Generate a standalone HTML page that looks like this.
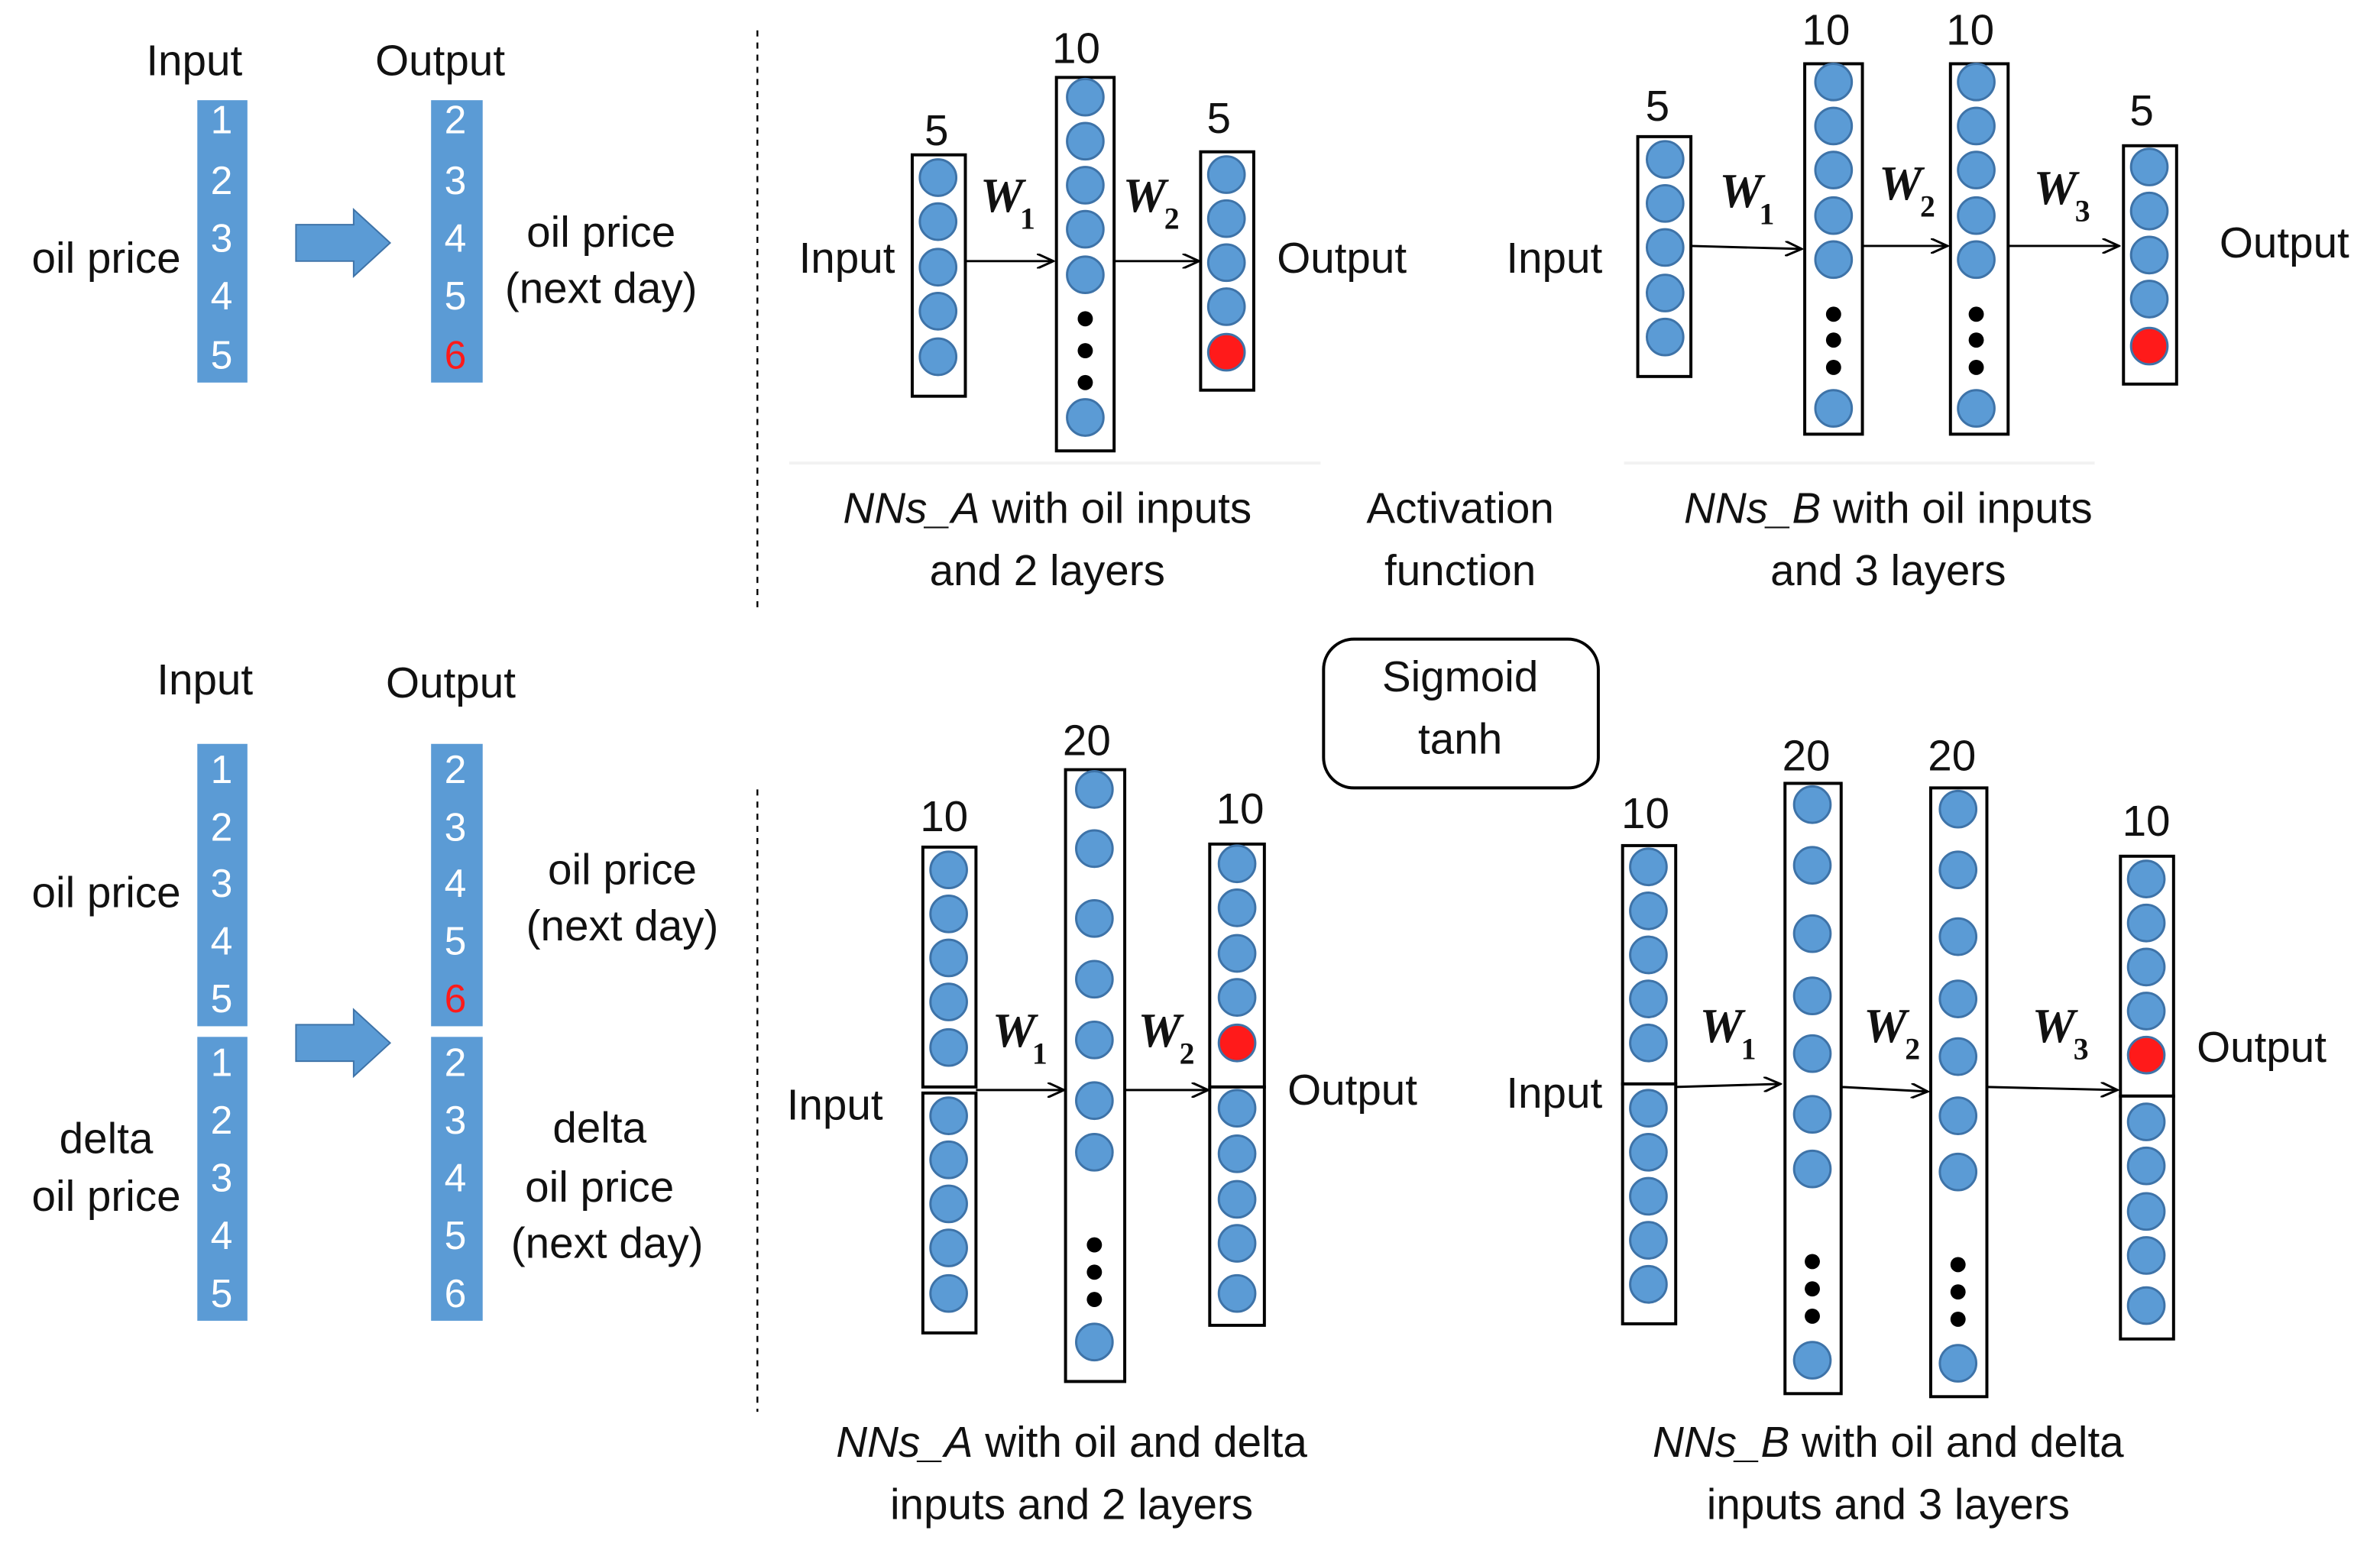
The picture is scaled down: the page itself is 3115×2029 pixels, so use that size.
<!DOCTYPE html>
<html><head><meta charset="utf-8"><style>
html,body{margin:0;padding:0;background:#fff;}
svg{display:block;}
text{font-family:"Liberation Sans",sans-serif;font-size:28.5px;fill:#111;text-anchor:middle;dominant-baseline:middle;}
.n{fill:#fff;font-size:26px;}
.r{fill:#ff1a1a;font-size:26px;}
.w{font-family:"Liberation Serif",serif;font-weight:bold;font-style:italic;font-size:32px;}
.s{font-family:"Liberation Serif",serif;font-weight:bold;font-size:20px;}
.c{fill:#5b9bd5;stroke:#3e73a8;stroke-width:1.5;}
.red{fill:#ff1a1a;stroke:#3e73a8;stroke-width:1.5;}
.b{fill:#fff;stroke:#000;stroke-width:2;}
.col{fill:#5b9bd5;}
.a{stroke:#000;stroke-width:1.5;fill:none;marker-end:url(#ah);}
</style></head><body>
<svg width="3115" height="2029" viewBox="0 0 1568 1021" preserveAspectRatio="none" xmlns="http://www.w3.org/2000/svg">
<defs><marker id="ah" markerWidth="12" markerHeight="10" refX="11" refY="5" orient="auto" markerUnits="userSpaceOnUse"><path d="M0,0 L11,5 L0,10" fill="none" stroke="#000" stroke-width="1.5"/></marker></defs>

<text x="128" y="42">Input</text><text x="290" y="42">Output</text>
<rect class="col" x="130" y="66" width="33" height="186"/>
<rect class="col" x="284" y="66" width="34" height="186"/>
<text class="n" x="146" y="81">1</text><text class="n" x="146" y="121">2</text><text class="n" x="146" y="159">3</text><text class="n" x="146" y="197">4</text><text class="n" x="146" y="236">5</text>
<text class="n" x="300" y="81">2</text><text class="n" x="300" y="121">3</text><text class="n" x="300" y="159">4</text><text class="n" x="300" y="197">5</text><text class="r" x="300" y="236">6</text>
<path d="M195,148 L233,148 L233,138 L257,160 L233,182 L233,172 L195,172 Z" fill="#5b9bd5" stroke="#3e73a8"/>
<text x="70" y="172">oil price</text>
<text x="396" y="155">oil price</text><text x="396" y="192">(next day)</text>

<line x1="499" y1="20" x2="499" y2="402" stroke="#000" stroke-width="1.2" stroke-dasharray="4,4"/>
<line x1="499" y1="520" x2="499" y2="930" stroke="#000" stroke-width="1.2" stroke-dasharray="4,4"/>

<text x="617" y="88">5</text><text x="709" y="34">10</text><text x="803" y="80">5</text>
<rect class="b" x="601" y="102" width="35" height="159"/>
<circle class="c" cx="618" cy="117" r="12"/><circle class="c" cx="618" cy="146" r="12"/><circle class="c" cx="618" cy="176" r="12"/><circle class="c" cx="618" cy="205" r="12"/><circle class="c" cx="618" cy="235" r="12"/>
<rect class="b" x="696" y="51" width="38" height="246"/>
<circle class="c" cx="715" cy="64" r="12"/><circle class="c" cx="715" cy="93" r="12"/><circle class="c" cx="715" cy="122" r="12"/><circle class="c" cx="715" cy="151" r="12"/><circle class="c" cx="715" cy="181" r="12"/>
<circle cx="715" cy="210" r="5"/><circle cx="715" cy="231" r="5"/><circle cx="715" cy="252" r="5"/>
<circle class="c" cx="715" cy="275" r="12"/>
<rect class="b" x="791" y="100" width="35" height="157"/>
<circle class="c" cx="808" cy="115" r="12"/><circle class="c" cx="808" cy="144" r="12"/><circle class="c" cx="808" cy="173" r="12"/><circle class="c" cx="808" cy="202" r="12"/><circle class="red" cx="808" cy="232" r="12"/>
<line class="a" x1="636" y1="172" x2="694" y2="172"/><line class="a" x1="734" y1="172" x2="790" y2="172"/>
<text class="w" x="660" y="132">W</text><text class="s" x="677" y="146">1</text>
<text class="w" x="754" y="132">W</text><text class="s" x="772" y="146">2</text>
<text x="558" y="172">Input</text><text x="884" y="172">Output</text>
<line x1="520" y1="305" x2="870" y2="305" stroke="#f2f2f2" stroke-width="2"/>
<line x1="1070" y1="305" x2="1380" y2="305" stroke="#f2f2f2" stroke-width="2"/>

<text x="690" y="337"><tspan font-style="italic">NNs_A</tspan> with oil inputs</text><text x="690" y="378">and 2 layers</text>
<text x="962" y="337">Activation</text><text x="962" y="378">function</text>
<text x="1244" y="337"><tspan font-style="italic">NNs_B</tspan> with oil inputs</text><text x="1244" y="378">and 3 layers</text>

<text x="1092" y="72">5</text><text x="1203" y="22">10</text><text x="1298" y="22">10</text><text x="1411" y="75">5</text>
<rect class="b" x="1079" y="90" width="35" height="158"/>
<circle class="c" cx="1097" cy="105" r="12"/><circle class="c" cx="1097" cy="134" r="12"/><circle class="c" cx="1097" cy="163" r="12"/><circle class="c" cx="1097" cy="193" r="12"/><circle class="c" cx="1097" cy="222" r="12"/>
<rect class="b" x="1189" y="42" width="38" height="244"/>
<circle class="c" cx="1208" cy="54" r="12"/><circle class="c" cx="1208" cy="83" r="12"/><circle class="c" cx="1208" cy="112" r="12"/><circle class="c" cx="1208" cy="142" r="12"/><circle class="c" cx="1208" cy="171" r="12"/>
<circle cx="1208" cy="207" r="5"/><circle cx="1208" cy="224" r="5"/><circle cx="1208" cy="242" r="5"/>
<circle class="c" cx="1208" cy="269" r="12"/>
<rect class="b" x="1285" y="42" width="38" height="244"/>
<circle class="c" cx="1302" cy="54" r="12"/><circle class="c" cx="1302" cy="83" r="12"/><circle class="c" cx="1302" cy="112" r="12"/><circle class="c" cx="1302" cy="142" r="12"/><circle class="c" cx="1302" cy="171" r="12"/>
<circle cx="1302" cy="207" r="5"/><circle cx="1302" cy="224" r="5"/><circle cx="1302" cy="242" r="5"/>
<circle class="c" cx="1302" cy="269" r="12"/>
<rect class="b" x="1399" y="96" width="35" height="157"/>
<circle class="c" cx="1416" cy="110" r="12"/><circle class="c" cx="1416" cy="139" r="12"/><circle class="c" cx="1416" cy="168" r="12"/><circle class="c" cx="1416" cy="197" r="12"/><circle class="red" cx="1416" cy="228" r="12"/>
<line class="a" x1="1114" y1="162" x2="1187" y2="164"/><line class="a" x1="1227" y1="162" x2="1283" y2="162"/><line class="a" x1="1323" y1="162" x2="1396" y2="162"/>
<text class="w" x="1147" y="129">W</text><text class="s" x="1164" y="143">1</text>
<text class="w" x="1252" y="124">W</text><text class="s" x="1270" y="138">2</text>
<text class="w" x="1354" y="127">W</text><text class="s" x="1372" y="141">3</text>
<text x="1024" y="172">Input</text><text x="1505" y="162">Output</text>

<rect x="872" y="421" width="181" height="98" rx="20" fill="#fff" stroke="#000" stroke-width="2"/>
<text x="962" y="448">Sigmoid</text><text x="962" y="489">tanh</text>

<text x="135" y="450">Input</text><text x="297" y="452">Output</text>
<rect class="col" x="130" y="490" width="33" height="186"/><rect class="col" x="130" y="683" width="33" height="187"/>
<rect class="col" x="284" y="490" width="34" height="186"/><rect class="col" x="284" y="683" width="34" height="187"/>
<text class="n" x="146" y="509">1</text><text class="n" x="146" y="547">2</text><text class="n" x="146" y="584">3</text><text class="n" x="146" y="622">4</text><text class="n" x="146" y="660">5</text>
<text class="n" x="146" y="702">1</text><text class="n" x="146" y="740">2</text><text class="n" x="146" y="778">3</text><text class="n" x="146" y="816">4</text><text class="n" x="146" y="854">5</text>
<text class="n" x="300" y="509">2</text><text class="n" x="300" y="547">3</text><text class="n" x="300" y="584">4</text><text class="n" x="300" y="622">5</text><text class="r" x="300" y="660">6</text>
<text class="n" x="300" y="702">2</text><text class="n" x="300" y="740">3</text><text class="n" x="300" y="778">4</text><text class="n" x="300" y="816">5</text><text class="n" x="300" y="854">6</text>
<path d="M195,675 L233,675 L233,665 L257,687 L233,709 L233,699 L195,699 Z" fill="#5b9bd5" stroke="#3e73a8"/>
<text x="70" y="590">oil price</text><text x="70" y="752">delta</text><text x="70" y="790">oil price</text>
<text x="410" y="575">oil price</text><text x="410" y="612">(next day)</text>
<text x="395" y="745">delta</text><text x="395" y="784">oil price</text><text x="400" y="821">(next day)</text>

<text x="622" y="540">10</text><text x="716" y="490">20</text><text x="817" y="535">10</text>
<rect class="b" x="608" y="558" width="35" height="158"/><rect class="b" x="608" y="720" width="35" height="158"/>
<circle class="c" cx="625" cy="573" r="12"/><circle class="c" cx="625" cy="602" r="12"/><circle class="c" cx="625" cy="631" r="12"/><circle class="c" cx="625" cy="660" r="12"/><circle class="c" cx="625" cy="690" r="12"/>
<circle class="c" cx="625" cy="735" r="12"/><circle class="c" cx="625" cy="764" r="12"/><circle class="c" cx="625" cy="793" r="12"/><circle class="c" cx="625" cy="822" r="12"/><circle class="c" cx="625" cy="852" r="12"/>
<rect class="b" x="702" y="507" width="39" height="403"/>
<circle class="c" cx="721" cy="520" r="12"/><circle class="c" cx="721" cy="559" r="12"/><circle class="c" cx="721" cy="605" r="12"/><circle class="c" cx="721" cy="645" r="12"/><circle class="c" cx="721" cy="685" r="12"/><circle class="c" cx="721" cy="725" r="12"/><circle class="c" cx="721" cy="759" r="12"/>
<circle cx="721" cy="820" r="5"/><circle cx="721" cy="838" r="5"/><circle cx="721" cy="856" r="5"/>
<circle class="c" cx="721" cy="884" r="12"/>
<rect class="b" x="797" y="556" width="36" height="160"/><rect class="b" x="797" y="716" width="36" height="157"/>
<circle class="c" cx="815" cy="569" r="12"/><circle class="c" cx="815" cy="598" r="12"/><circle class="c" cx="815" cy="628" r="12"/><circle class="c" cx="815" cy="657" r="12"/><circle class="red" cx="815" cy="687" r="12"/>
<circle class="c" cx="815" cy="730" r="12"/><circle class="c" cx="815" cy="760" r="12"/><circle class="c" cx="815" cy="790" r="12"/><circle class="c" cx="815" cy="819" r="12"/><circle class="c" cx="815" cy="852" r="12"/>
<line class="a" x1="643" y1="718" x2="701" y2="718"/><line class="a" x1="741" y1="718" x2="796" y2="718"/>
<text class="w" x="668" y="682">W</text><text class="s" x="685" y="696">1</text>
<text class="w" x="764" y="682">W</text><text class="s" x="782" y="696">2</text>
<text x="550" y="730">Input</text><text x="891" y="720">Output</text>
<text x="706" y="952"><tspan font-style="italic">NNs_A</tspan> with oil and delta</text><text x="706" y="993">inputs and 2 layers</text>

<text x="1084" y="538">10</text><text x="1190" y="500">20</text><text x="1286" y="500">20</text><text x="1414" y="543">10</text>
<rect class="b" x="1069" y="557" width="35" height="157"/><rect class="b" x="1069" y="714" width="35" height="158"/>
<circle class="c" cx="1086" cy="571" r="12"/><circle class="c" cx="1086" cy="600" r="12"/><circle class="c" cx="1086" cy="629" r="12"/><circle class="c" cx="1086" cy="658" r="12"/><circle class="c" cx="1086" cy="687" r="12"/>
<circle class="c" cx="1086" cy="730" r="12"/><circle class="c" cx="1086" cy="759" r="12"/><circle class="c" cx="1086" cy="788" r="12"/><circle class="c" cx="1086" cy="817" r="12"/><circle class="c" cx="1086" cy="846" r="12"/>
<rect class="b" x="1176" y="516" width="37" height="402"/>
<circle class="c" cx="1194" cy="530" r="12"/><circle class="c" cx="1194" cy="570" r="12"/><circle class="c" cx="1194" cy="615" r="12"/><circle class="c" cx="1194" cy="656" r="12"/><circle class="c" cx="1194" cy="694" r="12"/><circle class="c" cx="1194" cy="734" r="12"/><circle class="c" cx="1194" cy="770" r="12"/>
<circle cx="1194" cy="831" r="5"/><circle cx="1194" cy="849" r="5"/><circle cx="1194" cy="867" r="5"/>
<circle class="c" cx="1194" cy="896" r="12"/>
<rect class="b" x="1272" y="519" width="37" height="401"/>
<circle class="c" cx="1290" cy="533" r="12"/><circle class="c" cx="1290" cy="573" r="12"/><circle class="c" cx="1290" cy="617" r="12"/><circle class="c" cx="1290" cy="658" r="12"/><circle class="c" cx="1290" cy="696" r="12"/><circle class="c" cx="1290" cy="735" r="12"/><circle class="c" cx="1290" cy="772" r="12"/>
<circle cx="1290" cy="833" r="5"/><circle cx="1290" cy="851" r="5"/><circle cx="1290" cy="869" r="5"/>
<circle class="c" cx="1290" cy="898" r="12"/>
<rect class="b" x="1397" y="564" width="35" height="158"/><rect class="b" x="1397" y="722" width="35" height="160"/>
<circle class="c" cx="1414" cy="579" r="12"/><circle class="c" cx="1414" cy="608" r="12"/><circle class="c" cx="1414" cy="637" r="12"/><circle class="c" cx="1414" cy="666" r="12"/><circle class="red" cx="1414" cy="695" r="12"/>
<circle class="c" cx="1414" cy="739" r="12"/><circle class="c" cx="1414" cy="768" r="12"/><circle class="c" cx="1414" cy="798" r="12"/><circle class="c" cx="1414" cy="827" r="12"/><circle class="c" cx="1414" cy="860" r="12"/>
<line class="a" x1="1104" y1="716" x2="1173" y2="714"/><line class="a" x1="1213" y1="716" x2="1270" y2="719"/><line class="a" x1="1309" y1="716" x2="1395" y2="718"/>
<text class="w" x="1134" y="679">W</text><text class="s" x="1152" y="693">1</text>
<text class="w" x="1242" y="679">W</text><text class="s" x="1260" y="693">2</text>
<text class="w" x="1353" y="679">W</text><text class="s" x="1371" y="693">3</text>
<text x="1024" y="722">Input</text><text x="1490" y="692">Output</text>
<text x="1244" y="952"><tspan font-style="italic">NNs_B</tspan> with oil and delta</text><text x="1244" y="993">inputs and 3 layers</text>
</svg>
</body></html>
